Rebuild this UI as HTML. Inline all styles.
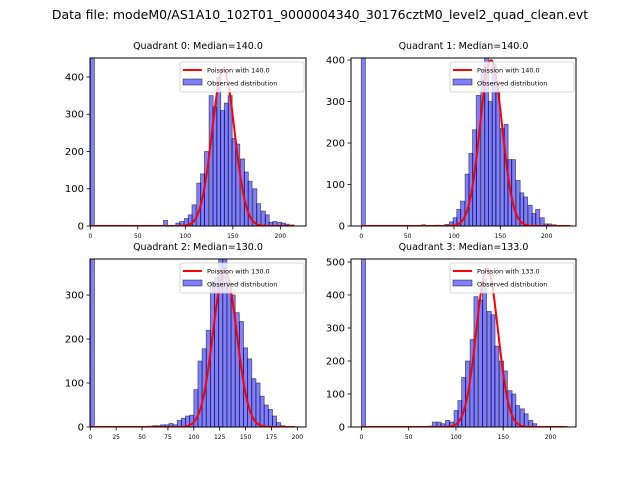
<!DOCTYPE html>
<html><head><meta charset="utf-8"><style>
body{margin:0;background:#fff}
svg{display:block;font-family:"DejaVu Sans","Liberation Sans",sans-serif}
</style></head><body>
<svg id="fig" width="640" height="480" viewBox="0 0 640 480">
<rect width="640" height="480" fill="#fff"/>
<text x="320" y="19" font-size="12.5" text-anchor="middle">Data file: modeM0/AS1A10_102T01_9000004340_30176cztM0_level2_quad_clean.evt</text>
</svg>
<script>
// Quadrant 0
const q0Bins=[0,77,90,94,99,103,107,112,116,120,125,129,133,137,141,145,149,153,158,162,166,171,175,180,184,188,192,197,201,205,210];
const q0Counts=[470,15,8,12,20,30,57,115,140,200,350,320,400,310,330,350,235,220,180,145,120,100,60,40,30,10,12,10,8,5,3];
// Quadrant 1
const q1Bins=[0,65,80,90,95,99,103,107,112,116,120,124,129,133,137,141,145,150,154,158,162,167,171,175,180,184,188,193,197,201,206];
const q1Counts=[420,3,2,4,10,20,40,60,125,175,232,315,375,405,300,390,325,235,245,160,160,110,80,70,50,30,40,20,5,5,3];
// Quadrant 2
const q2Bins=[0,55,60,64,68,72,76,80,84,88,92,96,100,104,108,112,116,120,124,128,132,136,140,144,148,152,156,160,164,168,172,176,180,184];
const q2Counts=[400,2,3,3,5,5,8,5,15,20,25,27,85,150,178,220,330,340,390,385,330,300,260,240,180,155,110,100,70,50,40,25,10,3];
// Quadrant 3
const q3Bins=[0,50,70,75,80,84,89,93,98,102,106,110,115,119,124,128,133,137,141,146,150,155,159,163,168,172,177,181,190];
const q3Counts=[520,2,3,15,15,10,20,15,50,80,150,200,265,395,385,450,350,340,245,200,170,110,100,65,55,40,20,10,2];
const medians=[140.0,140.0,130.0,133.0];
const curvePeaks=[420,400,355,480];
const curveEnds=[215,225,198,218];
const xTicks0=[0,50,100,150,200];
const xTicks2=[0,25,50,75,100,125,150,175,200];
const yTicks0=[0,100,200,300,400];
const yTicks2=[0,100,200,300];
const yTicks3=[0,100,200,300,400,500];

const NS="http://www.w3.org/2000/svg";
const svg=document.getElementById('fig');
function mk(tag,attrs,parent){const e=document.createElementNS(NS,tag);for(const k in attrs)e.setAttribute(k,attrs[k]);(parent||svg).appendChild(e);return e;}

const panels=[
 {box:[90,58,306,226],xlim:[-0.3,227],ylim:[0,451],bins:q0Bins,counts:q0Counts,bw:4.3,xt:xTicks0,yt:yTicks0},
 {box:[351,58,576,226],xlim:[-11.1,231.6],ylim:[0,405],bins:q1Bins,counts:q1Counts,bw:4.4,xt:xTicks0,yt:yTicks0},
 {box:[90,259,306,427],xlim:[-0.3,208.4],ylim:[0,382],bins:q2Bins,counts:q2Counts,bw:4.0,xt:xTicks2,yt:yTicks2},
 {box:[351,259,576,427],xlim:[-11,227],ylim:[0,509],bins:q3Bins,counts:q3Counts,bw:4.4,xt:xTicks0,yt:yTicks3}
];

panels.forEach((p,i)=>{
 const [x0,y0,x1,y1]=p.box;
 const sx=v=>x0+(v-p.xlim[0])/(p.xlim[1]-p.xlim[0])*(x1-x0);
 const sy=v=>y1-(v-p.ylim[0])/(p.ylim[1]-p.ylim[0])*(y1-y0);
 const g=mk('g',{});
 
 
 const cid='clip'+i;
 const cp=mk('clipPath',{id:cid},g);mk('rect',{x:x0,y:y0,width:x1-x0,height:y1-y0},cp);
 const plot=mk('g',{'clip-path':'url(#'+cid+')'},g);
 p.bins.forEach((b,j)=>{
  const top=sy(p.counts[j]);
  const r=mk('rect',{x:sx(b),y:top,width:sx(b+p.bw)-sx(b),height:y1-top,fill:'rgba(0,0,255,0.5)',stroke:'rgba(0,0,0,0.55)','stroke-width':0.8},plot);
  
  
 });
 const lam=medians[i],sd=Math.sqrt(lam);
 let d='';
 for(let v=0;v<=curveEnds[i];v+=1){
  const y=curvePeaks[i]*Math.exp(-0.5*((v-lam)/sd)**2);
  d+=(v===0?'M':'L')+sx(v).toFixed(1)+','+sy(y).toFixed(1);
 }
 const c=mk('path',{d:d,fill:'none',stroke:'#ff0000','stroke-width':2,'stroke-linejoin':'round'},plot);
 
 
 mk('rect',{x:x0,y:y0,width:x1-x0,height:y1-y0,fill:'none',stroke:'#000','stroke-width':1},g);
 p.xt.forEach(t=>{
  const X=sx(t);
  mk('line',{x1:X,y1:y1,x2:X,y2:y1+3.5,stroke:'#000','stroke-width':0.8},g);
  const tx=mk('text',{x:X,y:y1+12,'font-size':6,'text-anchor':'middle'},g);tx.textContent=t;
  
  
 });
 p.yt.forEach(t=>{
  const Y=sy(t);
  mk('line',{x1:x0,y1:Y,x2:x0-3.5,y2:Y,stroke:'#000','stroke-width':0.8},g);
  const tx=mk('text',{x:x0-6,y:Y+3.5,'font-size':10,'text-anchor':'end'},g);tx.textContent=t;
  
  
 });
 const tt=mk('text',{x:(x0+x1)/2,y:y0-9,'font-size':9.5,'text-anchor':'middle'},g);
 tt.textContent='Quadrant '+i+': Median='+lam.toFixed(1);
 
 
 const lg=mk('g',{},g);
 
 
 const lx=x1-126,ly=y0+4;
 mk('rect',{x:lx,y:ly,width:124,height:30,rx:2,fill:'rgba(255,255,255,0.8)',stroke:'#ccc','stroke-width':0.8},lg);
 mk('line',{x1:lx+3,y1:ly+8,x2:lx+22,y2:ly+8,stroke:'#f00','stroke-width':2},lg);
 const t1=mk('text',{x:lx+27,y:ly+10.5,'font-size':6.5},lg);t1.textContent='Poission with '+lam.toFixed(1);
 mk('rect',{x:lx+3,y:ly+17,width:19,height:6,fill:'rgba(0,0,255,0.5)',stroke:'rgba(0,0,0,0.55)','stroke-width':0.8},lg);
 const t2=mk('text',{x:lx+27,y:ly+23.5,'font-size':6.5},lg);t2.textContent='Observed distribution';
});
</script>
</body></html>
